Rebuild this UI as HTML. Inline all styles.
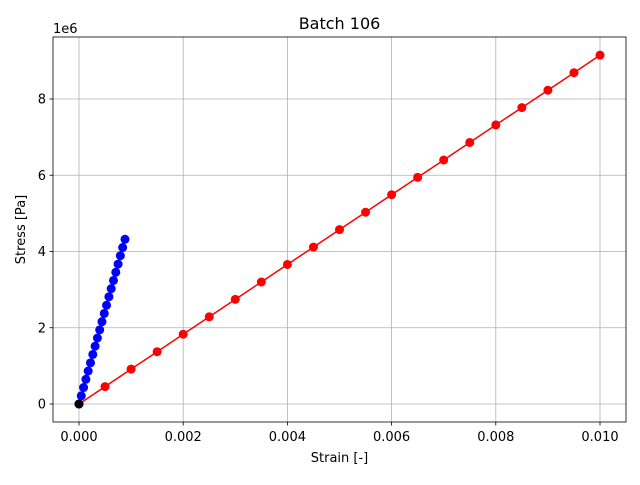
<!DOCTYPE html>
<html><head><meta charset="utf-8"><style>
body{margin:0;background:#fff;font-family:"Liberation Sans","DejaVu Sans",sans-serif}
svg text{font-family:"DejaVu Sans","Liberation Sans",sans-serif;font-size:13px}
</style></head><body>
<svg id="c" width="640" height="480" xmlns="http://www.w3.org/2000/svg"></svg>
<script>
const xTicks=[0,0.002,0.004,0.006,0.008,0.010];
const xTickLabels=["0.000","0.002","0.004","0.006","0.008","0.010"];
const yTicks=[0,2,4,6,8];
const yTickLabels=["0","2","4","6","8"];
const redStrain=[0,0.0005,0.001,0.0015,0.002,0.0025,0.003,0.0035,0.004,0.0045,0.005,0.0055,0.006,0.0065,0.007,0.0075,0.008,0.0085,0.009,0.0095,0.010];
const redStress=[0,0.457,0.915,1.372,1.83,2.287,2.745,3.2,3.66,4.115,4.575,5.03,5.49,5.945,6.4,6.86,7.32,7.775,8.23,8.69,9.15];
const blueStrain=[0,0.000044,0.000088,0.000132,0.000176,0.00022,0.000265,0.000309,0.000353,0.000397,0.000441,0.000485,0.000529,0.000574,0.000618,0.000662,0.000706,0.00075,0.000794,0.000838,0.000883];
const blueStress=[0,0.216,0.432,0.648,0.864,1.08,1.3,1.515,1.73,1.945,2.16,2.375,2.59,2.81,3.025,3.24,3.455,3.67,3.89,4.105,4.32];
const blackStrain=[0];
const blackStress=[0];
const svg=document.getElementById('c');const NS='http://www.w3.org/2000/svg';
const L=53,R=626,T=37,B=422;
const sx=v=>79+v*52100;
const sy=v=>404-v*38.125;
function el(tag,attrs,parent){const e=document.createElementNS(NS,tag);for(const k in attrs)e.setAttribute(k,attrs[k]);(parent||svg).appendChild(e);return e;}
xTicks.forEach((t,i)=>{const x=sx(t);
 const g=el('line',{x1:x,x2:x,y1:T,y2:B,stroke:'#b0b0b0','stroke-width':0.8});
 
 
 el('line',{x1:x,x2:x,y1:B,y2:B+3.5,stroke:'#000','stroke-width':0.8});
 const tx=el('text',{x:x,y:B+19,'text-anchor':'middle'});tx.textContent=xTickLabels[i];
 
 
});
yTicks.forEach((t,i)=>{const y=sy(t);
 const g=el('line',{x1:L,x2:R,y1:y,y2:y,stroke:'#b0b0b0','stroke-width':0.8});
 
 
 el('line',{x1:L-3.5,x2:L,y1:y,y2:y,stroke:'#000','stroke-width':0.8});
 const tx=el('text',{x:L-7,y:y+4.5,'text-anchor':'end'});tx.textContent=yTickLabels[i];
 
 
});
function series(xs,ys,color,name,line){
 if(line){const p=el('polyline',{points:xs.map((x,i)=>sx(x)+','+sy(ys[i])).join(' '),fill:'none',stroke:color,'stroke-width':1.5});
 
 }
 xs.forEach((x,i)=>{const c=el('circle',{cx:sx(x),cy:sy(ys[i]),r:4.5,fill:color});
 
 });
}
series(redStrain,redStress,'#ff0000','red-series',true);
series(blueStrain,blueStress,'#0000ff','blue-series',true);
series(blackStrain,blackStress,'#000000','origin',false);
const fr=el('rect',{x:L,y:T,width:R-L,height:B-T,fill:'none',stroke:'#000','stroke-width':0.8});


const t1=el('text',{x:339.5,y:29,'text-anchor':'middle',style:'font-size:16px'});t1.textContent='Batch 106';


const t2=el('text',{x:339.5,y:462,'text-anchor':'middle'});t2.textContent='Strain [-]';


const t3=el('text',{x:0,y:0,'text-anchor':'middle',transform:'translate(25,229.5) rotate(-90)'});t3.textContent='Stress [Pa]';


const t4=el('text',{x:53,y:33});t4.textContent='1e6';


</script>
</body></html>
